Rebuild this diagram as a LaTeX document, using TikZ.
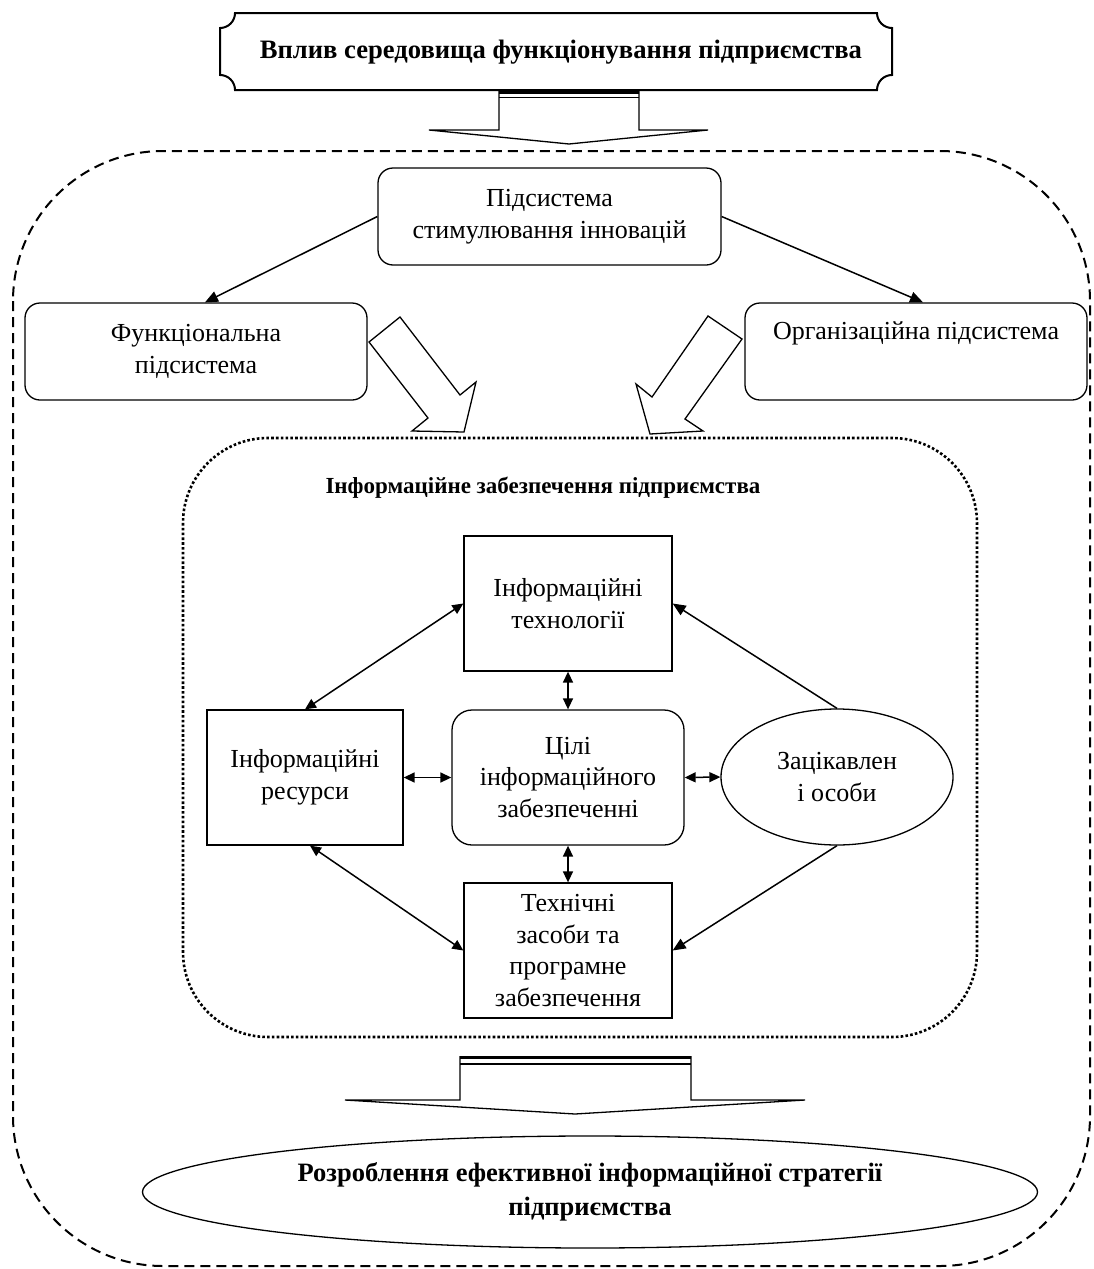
\documentclass[tikz,border=0pt]{standalone}
\usepackage{fontspec}
\setmainfont{Liberation Serif}
\usetikzlibrary{arrows.meta,shapes.geometric,calc}
\begin{document}
\begin{tikzpicture}[x=1pt,y=-1pt,
  every node/.style={font=\fontsize{26}{31.5}\selectfont, align=center, inner sep=0pt},
  rbox/.style={draw, line width=1.3pt, rounded corners=15pt},
  sbox/.style={draw, line width=1.3pt},
  conn/.style={line width=1.5pt, -{Triangle[length=13pt,width=11pt]}},
  dconn/.style={line width=1.5pt, {Triangle[length=11pt,width=10pt]}-{Triangle[length=11pt,width=10pt]}},
  hollow/.style={draw, line width=1.3pt, fill=white, line join=miter},
  boldtxt/.style={font=\fontsize{23}{33}\selectfont\bfseries}
]
\useasboundingbox (0,0) rectangle (1093,1269);

% outer dashed frame
\draw[line width=2pt, dash pattern=on 10pt off 6pt, rounded corners=150pt] (13,151) rectangle (1090,1266);

% banner
\draw[line width=2pt] (235,13) -- (877,13) arc[start angle=180,end angle=90,radius=15]
  -- (892,75) arc[start angle=270,end angle=180,radius=15]
  -- (235,90) arc[start angle=0,end angle=-90,radius=15]
  -- (220,28) arc[start angle=90,end angle=0,radius=15] -- cycle;
\node[font=\fontsize{26.6}{32}\selectfont\bfseries] (banner) at (561,52) {Вплив середовища функціонування підприємства};

% top block arrow
\draw[line width=1.3pt, fill=white, line join=miter] (499,91) -- (499,130) -- (429,130) -- (569,144) -- (708,130) -- (639,130) -- (639,91);
\draw[line width=3pt] (499,92.5) -- (639,92.5);
\draw[line width=1.3pt] (499,97.5) -- (639,97.5);

% subsystems
\node[rbox, minimum width=343pt, minimum height=97pt] (stim) at (549.5,216.5) {Підсистема\\стимулювання інновацій};
\node[rbox, minimum width=342pt, minimum height=97pt] (func) at (196,351.5) {Функціональна\\підсистема};
\node[rbox, minimum width=342pt, minimum height=97pt] (org) at (916,351.5) {Організаційна підсистема\\\strut};

\draw[conn] (stim.west) -- ([xshift=9pt]func.north);
\draw[conn] (stim.east) -- ([xshift=7pt]org.north);

% hollow diagonal arrows
\draw[hollow] (369,342) -- (428,418) -- (412,431) -- (464,432) -- (476,382) -- (460,395) -- (400,317) -- cycle;
\draw[hollow] (708,316) -- (652,397) -- (636,384) -- (650,434) -- (703,431) -- (685,419) -- (742,339) -- cycle;

% dotted frame
\draw[line width=2.6pt, dash pattern=on 2.6pt off 2.2pt, rounded corners=85pt] (183,438) rectangle (977,1037);
\node[boldtxt] (title) at (543,488) {Інформаційне забезпечення підприємства};

% inner nodes
\node[sbox, minimum width=208pt, minimum height=135pt] (tech) at (568,603.5) {Інформаційні\\технології};
\node[sbox, minimum width=196pt, minimum height=135pt] (res) at (305,777.5) {Інформаційні\\ресурси};
\node[sbox, rounded corners=20pt, minimum width=232pt, minimum height=135pt] (goals) at (568,777.5) {Цілі\\інформаційного\\забезпеченні};
\node[draw, ellipse, line width=1.3pt, minimum width=232pt, minimum height=136pt] (stake) at (837,777) {Зацікавлен\\і особи};
\node[sbox, minimum width=208pt, minimum height=135pt] (hw) at (568,950.5) {Технічні\\засоби та\\програмне\\забезпечення};

\draw[dconn] (tech.west) -- (res.north);
\draw[dconn] (tech.south) -- (goals.north);
\draw[dconn] (res.east) -- (goals.west);
\draw[dconn] (goals.east) -- (stake.west);
\draw[dconn] (goals.south) -- (hw.north);
\draw[dconn] ([xshift=5pt]res.south) -- (hw.west);
\draw[conn] (stake.north) -- (tech.east);
\draw[conn] (stake.south) -- (hw.east);

% bottom block arrow
\draw[line width=1.3pt, fill=white, line join=miter] (460,1056) -- (460,1100) -- (345,1100) -- (575,1114) -- (805,1100) -- (691,1100) -- (691,1056);
\draw[line width=3pt] (460,1057.5) -- (691,1057.5);
\draw[line width=1.3pt] (460,1064) -- (691,1064);

% result ellipse
\node[draw, ellipse, line width=1.3pt, minimum width=895pt, minimum height=112pt, font=\fontsize{26.5}{34}\selectfont\bfseries] (result) at (590,1192) {Розроблення ефективної інформаційної стратегії\\підприємства};
\end{tikzpicture}
\end{document}
